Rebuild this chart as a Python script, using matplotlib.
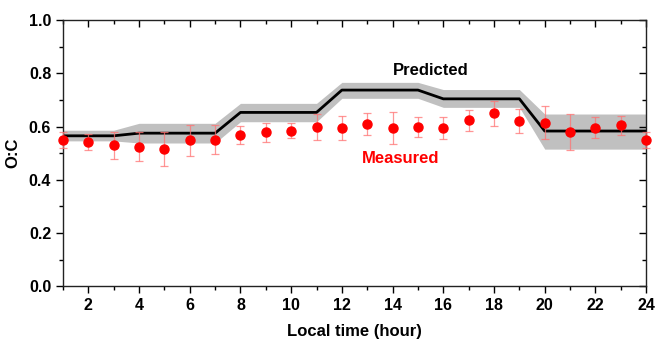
import matplotlib
matplotlib.use("Agg")
import matplotlib.pyplot as plt
from matplotlib.ticker import MultipleLocator

plt.rcParams['font.family'] = ['Liberation Sans', 'DejaVu Sans']
plt.rcParams['font.weight'] = 'bold'

hours = list(range(1, 25))

# predicted O:C and its uncertainty band
predicted = [0.565, 0.565, 0.565, 0.575, 0.575, 0.575, 0.575,
             0.653, 0.653, 0.653, 0.653,
             0.737, 0.737, 0.737, 0.737,
             0.704, 0.704, 0.704, 0.704,
             0.583, 0.583, 0.583, 0.583, 0.583]
pred_low = [0.546, 0.546, 0.546, 0.538, 0.538, 0.538, 0.538,
            0.618, 0.618, 0.618, 0.618,
            0.706, 0.706, 0.706, 0.706,
            0.672, 0.672, 0.672, 0.672,
            0.515, 0.515, 0.515, 0.515, 0.515]
pred_high = [0.586, 0.586, 0.586, 0.612, 0.612, 0.612, 0.612,
             0.687, 0.687, 0.687, 0.687,
             0.766, 0.766, 0.766, 0.766,
             0.739, 0.739, 0.739, 0.739,
             0.647, 0.647, 0.647, 0.647, 0.647]

# measured O:C with error
measured = [0.549, 0.541, 0.529, 0.524, 0.516, 0.548, 0.551, 0.568,
            0.579, 0.585, 0.598, 0.594, 0.609, 0.596, 0.598, 0.594,
            0.623, 0.649, 0.620, 0.615, 0.579, 0.596, 0.605, 0.551]
meas_err = [0.03, 0.03, 0.05, 0.055, 0.063, 0.058, 0.056, 0.034,
            0.036, 0.03, 0.05, 0.045, 0.04, 0.06, 0.036, 0.04,
            0.038, 0.048, 0.045, 0.063, 0.068, 0.04, 0.036, 0.03]

fig = plt.figure(figsize=(6.56, 3.41), dpi=100)
ax = fig.add_axes([0.096, 0.161, 0.889, 0.78])

ax.fill_between(hours, pred_low, pred_high, color='#c0c0c0', linewidth=0, zorder=1)
ax.plot(hours, predicted, color='black', linewidth=2, zorder=2)
ax.errorbar(hours, measured, yerr=meas_err, fmt='o', color='red', markersize=6.5,
            ecolor=(1, 0.45, 0.45, 0.75), elinewidth=0.9, capsize=3, capthick=0.9,
            clip_on=False, zorder=3)

ax.text(15.5, 0.81, 'Predicted', color='black', fontsize=12, fontweight='bold',
        ha='center', va='center')
ax.text(14.3, 0.48, 'Measured', color='red', fontsize=12, fontweight='bold',
        ha='center', va='center')

ax.set_xlim(1, 24)
ax.set_ylim(0, 1.0)
ax.xaxis.set_minor_locator(MultipleLocator(1))
ax.yaxis.set_minor_locator(MultipleLocator(0.1))
ax.set_xticks(range(2, 25, 2))
ax.set_xticklabels([str(h) for h in range(2, 25, 2)])
ax.set_yticks([0.0, 0.2, 0.4, 0.6, 0.8, 1.0])
ax.set_yticklabels(['0.0', '0.2', '0.4', '0.6', '0.8', '1.0'])

ax.tick_params(which='both', direction='out', labelsize=11.5, width=1)
ax.tick_params(which='major', length=5)
ax.tick_params(which='minor', length=3)
ax.tick_params(which='both', top=True, right=True)

# top and right ticks point inward
for t in ax.xaxis.get_major_ticks() + ax.xaxis.get_minor_ticks():
    t.tick2line.set_marker(3)
for t in ax.yaxis.get_major_ticks() + ax.yaxis.get_minor_ticks():
    t.tick2line.set_marker(0)

for s in ax.spines.values():
    s.set_linewidth(1)
    s.set_color('#222222')

ax.set_xlabel('Local time (hour)', fontsize=12, fontweight='bold', labelpad=8)
ax.set_ylabel('O:C', fontsize=12, fontweight='bold', labelpad=6)

fig.savefig('out.png', dpi=100)
